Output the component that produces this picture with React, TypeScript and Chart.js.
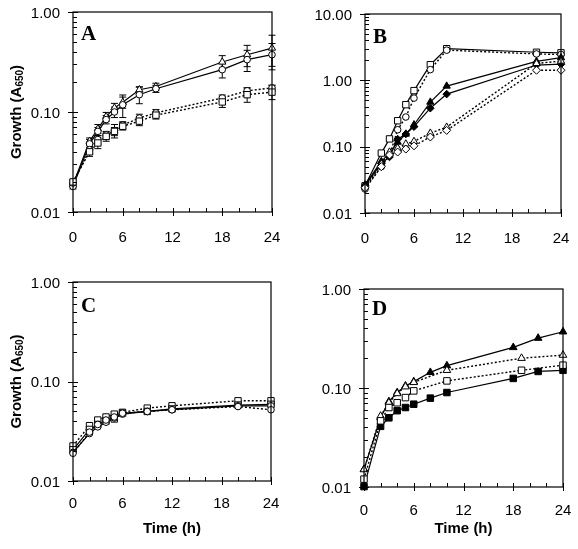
import React, { useEffect, useRef } from "react";
import { Chart, registerables } from "chart.js";
Chart.register(...registerables);

// ---------- DATA ----------
const xMajorTicks = [0, 6, 12, 18, 24];
const yTicks2 = [0.01, 0.1, 1];
const yTicks3 = [0.01, 0.1, 1, 10];

// Panel A
const hoursA = [0, 2, 3, 4, 5, 6, 8, 10, 18, 21, 24];
const aTriSolid = [0.0188, 0.051, 0.068, 0.09, 0.11, 0.125, 0.167, 0.18, 0.316, 0.374, 0.436];
const aTriSolidErr = [0.001, 0.004, 0.007, 0.009, 0.012, 0.016, 0.012, 0.014, 0.05, 0.09, 0.15];
const aCircSolid = [0.018, 0.048, 0.064, 0.084, 0.1, 0.118, 0.149, 0.171, 0.265, 0.334, 0.374];
const aCircSolidErr = [0.001, 0.005, 0.006, 0.008, 0.012, 0.03, 0.028, 0.014, 0.046, 0.08, 0.11];
const aCircDot = [0.0195, 0.042, 0.053, 0.059, 0.065, 0.074, 0.087, 0.098, 0.138, 0.163, 0.174];
const aCircDotErr = [0.001, 0.004, 0.005, 0.005, 0.01, 0.006, 0.008, 0.008, 0.01, 0.012, 0.012];
const aSqDot = [0.02, 0.04, 0.049, 0.057, 0.064, 0.072, 0.081, 0.093, 0.126, 0.149, 0.158];
const aSqDotErr = [0.001, 0.004, 0.006, 0.006, 0.006, 0.006, 0.008, 0.008, 0.015, 0.024, 0.025];

// Panel B
const hoursB = [0, 2, 3, 4, 5, 6, 8, 10, 21, 24];
const bSqSolid = [0.0257, 0.08, 0.131, 0.246, 0.43, 0.7, 1.72, 3.0, 2.65, 2.6];
const bCircDot = [0.023, 0.05, 0.074, 0.18, 0.28, 0.54, 1.45, 2.85, 2.5, 2.45];
const bTriFilled = [0.0266, 0.06, 0.08, 0.117, 0.155, 0.214, 0.47, 0.82, 1.93, 2.2];
const bDiaFilled = [0.026, 0.056, 0.07, 0.13, 0.155, 0.2, 0.38, 0.62, 1.7, 1.75];
const bTriOpen = [0.025, 0.055, 0.083, 0.095, 0.11, 0.12, 0.16, 0.197, 1.8, 1.95];
const bDiaOpen = [0.024, 0.05, 0.075, 0.083, 0.092, 0.103, 0.14, 0.176, 1.42, 1.42];

// Panel C
const hoursC = [0, 2, 3, 4, 5, 6, 9, 12, 20, 24];
const cSqDot = [0.0225, 0.036, 0.041, 0.044, 0.047, 0.049, 0.054, 0.057, 0.064, 0.064];
const cSqSolid = [0.0206, 0.033, 0.037, 0.04, 0.042, 0.048, 0.05, 0.053, 0.058, 0.059];
const cCircSolid = [0.0194, 0.03, 0.035, 0.039, 0.043, 0.047, 0.05, 0.052, 0.057, 0.057];
const cCircDot = [0.019, 0.031, 0.037, 0.041, 0.044, 0.048, 0.05, 0.052, 0.056, 0.052];

// Panel D
const hoursDSolid = [0, 2, 3, 4, 5, 6, 8, 10, 18, 21, 24];
const dTriFilled = [0.0151, 0.05, 0.073, 0.09, 0.105, 0.116, 0.144, 0.168, 0.257, 0.319, 0.37];
const dSqFilled = [0.0101, 0.041, 0.05, 0.059, 0.0635, 0.0686, 0.079, 0.09, 0.125, 0.147, 0.151];
const hoursDDot = [0, 2, 3, 4, 5, 6, 10, 19, 24];
const dTriOpen = [0.015, 0.052, 0.071, 0.088, 0.103, 0.114, 0.151, 0.2, 0.215];
const dSqOpen = [0.012, 0.0466, 0.0635, 0.071, 0.08, 0.0935, 0.118, 0.151, 0.17];

const yTitleMain = "Growth (A";
const yTitleSub = "650";
const yTitleEnd = ")";
const xTitle = "Time (h)";

// ---------- helpers ----------
const SANS = "'Liberation Sans', Arial, Helvetica, sans-serif";
const SERIF = "'Liberation Serif', 'Times New Roman', serif";

function pts(xs: number[], ys: number[]) {
  return xs.map((x, i) => ({ x, y: ys[i] }));
}

function series(xs: number[], ys: number[], style: string, filled: boolean, dotted: boolean, radius: number, errors?: number[]) {
  return {
    data: pts(xs, ys),
    borderColor: "#000",
    borderWidth: dotted ? 1.4 : 1.2,
    borderDash: dotted ? [2, 2] : [],
    pointStyle: style,
    pointRadius: radius,
    pointBackgroundColor: filled ? "#000" : "#fff",
    pointBorderColor: "#000",
    pointBorderWidth: 1,
    backgroundColor: filled ? "#000" : "#fff",
    fill: false,
    tension: 0,
    clip: false,
    errors,
  };
}

const errorBarPlugin = {
  id: "errbars",
  beforeDatasetsDraw(chart: any) {
    const { ctx, scales } = chart;
    const xs = scales.x, ys = scales.y;
    ctx.save();
    ctx.strokeStyle = "#000";
    ctx.lineWidth = 1;
    chart.data.datasets.forEach((ds: any) => {
      if (!ds.errors) return;
      ds.data.forEach((p: any, i: number) => {
        const e = ds.errors[i];
        if (!e) return;
        const px = xs.getPixelForValue(p.x);
        const top = ys.getPixelForValue(p.y + e);
        const bot = ys.getPixelForValue(Math.max(p.y - e, 1e-4));
        ctx.beginPath();
        ctx.moveTo(px, top);
        ctx.lineTo(px, bot);
        ctx.moveTo(px - 3.5, top);
        ctx.lineTo(px + 3.5, top);
        ctx.moveTo(px - 3.5, bot);
        ctx.lineTo(px + 3.5, bot);
        ctx.stroke();
      });
    });
    ctx.restore();
  },
};

const framePlugin = {
  id: "frame",
  afterDraw(chart: any) {
    const { ctx, chartArea: a, scales } = chart;
    const xs = scales.x, ys = scales.y;
    const cfg = chart.options.plugins.panel;
    ctx.save();
    ctx.strokeStyle = "#000";
    ctx.fillStyle = "#000";
    ctx.lineWidth = 1.2;
    ctx.strokeRect(a.left, a.top, a.right - a.left, a.bottom - a.top);
    ctx.lineWidth = 1;
    // x ticks + labels
    ctx.font = `15px ${SANS}`;
    ctx.textAlign = "center";
    ctx.textBaseline = "alphabetic";
    for (let h = xs.min; h <= xs.max; h += 2) {
      const px = Math.round(xs.getPixelForValue(h)) + 0.5;
      const major = xMajorTicks.includes(h);
      ctx.beginPath();
      ctx.moveTo(px, a.bottom + (major ? 4 : 0));
      ctx.lineTo(px, a.bottom - 4);
      ctx.stroke();
      if (major) ctx.fillText(String(h), xs.getPixelForValue(h), a.bottom + cfg.xLabelOffset);
    }
    // y ticks + labels
    const decades: number[] = cfg.yTicks;
    ctx.textAlign = "right";
    for (let d = 0; d < decades.length; d++) {
      const base = decades[d];
      const yp = ys.getPixelForValue(base);
      const py = Math.round(yp) + 0.5;
      ctx.beginPath();
      ctx.moveTo(a.left - 5, py);
      ctx.lineTo(a.left + 5, py);
      ctx.stroke();
      ctx.fillText(base.toFixed(2), a.left - 13, yp + 5.5);
      if (d < decades.length - 1) {
        for (let k = 2; k <= 9; k++) {
          const pm = Math.round(ys.getPixelForValue(base * k)) + 0.5;
          ctx.beginPath();
          ctx.moveTo(a.left, pm);
          ctx.lineTo(a.left + 4, pm);
          ctx.stroke();
        }
      }
    }
    // panel letter
    ctx.font = `bold 21px ${SERIF}`;
    ctx.textAlign = "left";
    ctx.fillText(cfg.letter, a.left + 8, a.top + cfg.letterDy);
    // y title
    if (cfg.yTitle) {
      const cy = (a.top + a.bottom) / 2;
      ctx.save();
      ctx.translate(21, cy);
      ctx.rotate(-Math.PI / 2);
      ctx.font = `bold 15px ${SANS}`;
      const w1 = ctx.measureText(yTitleMain).width;
      const w3 = ctx.measureText(yTitleEnd).width;
      ctx.font = `bold 10px ${SANS}`;
      const w2 = ctx.measureText(yTitleSub).width;
      const x0 = -(w1 + w2 + w3) / 2;
      ctx.font = `bold 15px ${SANS}`;
      ctx.fillText(yTitleMain, x0, 0);
      ctx.font = `bold 10px ${SANS}`;
      ctx.fillText(yTitleSub, x0 + w1, 2);
      ctx.font = `bold 15px ${SANS}`;
      ctx.fillText(yTitleEnd, x0 + w1 + w2, 0);
      ctx.restore();
    }
    // x title
    if (cfg.xTitleY) {
      ctx.font = `bold 15px ${SANS}`;
      ctx.textAlign = "center";
      ctx.fillText(xTitle, (a.left + a.right) / 2, cfg.xTitleY);
    }
    ctx.restore();
  },
};

type Panel = {
  box: { left: number; top: number; w: number; h: number };
  area: { l: number; t: number; r: number; b: number };
  yMin: number;
  yMax: number;
  yTicks: number[];
  letter: string;
  letterDy: number;
  yTitle: boolean;
  xTitleY: number | null;
  xLabelOffset: number;
  datasets: any[];
};

const panels: Panel[] = [
  {
    box: { left: 0, top: 0, w: 290, h: 270 },
    area: { l: 73, t: 12, r: 272, b: 212 },
    yMin: 0.01, yMax: 1, yTicks: yTicks2, letter: "A", letterDy: 28, yTitle: true, xTitleY: null, xLabelOffset: 30,
    datasets: [
      series(hoursA, aSqDot, "rect", false, true, 4.5, aSqDotErr),
      series(hoursA, aCircDot, "circle", false, true, 3.3, aCircDotErr),
      series(hoursA, aCircSolid, "circle", false, false, 3.3, aCircSolidErr),
      series(hoursA, aTriSolid, "triangle", false, false, 4.2, aTriSolidErr),
    ],
  },
  {
    box: { left: 290, top: 0, w: 288, h: 270 },
    area: { l: 75, t: 14, r: 271, b: 213 },
    yMin: 0.01, yMax: 10, yTicks: yTicks3, letter: "B", letterDy: 29, yTitle: false, xTitleY: null, xLabelOffset: 30,
    datasets: [
      series(hoursB, bDiaOpen, "rectRot", false, true, 4, undefined),
      series(hoursB, bTriOpen, "triangle", false, true, 4.2, undefined),
      series(hoursB, bDiaFilled, "rectRot", true, false, 3.8, undefined),
      series(hoursB, bTriFilled, "triangle", true, false, 4.2, undefined),
      series(hoursB, bCircDot, "circle", false, true, 3.3, undefined),
      series(hoursB, bSqSolid, "rect", false, false, 4.5, undefined),
    ],
  },
  {
    box: { left: 0, top: 270, w: 290, h: 279 },
    area: { l: 73, t: 12, r: 271, b: 211 },
    yMin: 0.01, yMax: 1, yTicks: yTicks2, letter: "C", letterDy: 30, yTitle: true, xTitleY: 263, xLabelOffset: 27,
    datasets: [
      series(hoursC, cCircDot, "circle", false, true, 3.3, undefined),
      series(hoursC, cCircSolid, "circle", false, false, 3.3, undefined),
      series(hoursC, cSqSolid, "rect", false, false, 4.5, undefined),
      series(hoursC, cSqDot, "rect", false, true, 4.5, undefined),
    ],
  },
  {
    box: { left: 290, top: 270, w: 288, h: 279 },
    area: { l: 74, t: 19, r: 273, b: 217 },
    yMin: 0.01, yMax: 1, yTicks: yTicks2, letter: "D", letterDy: 26, yTitle: false, xTitleY: 263, xLabelOffset: 28,
    datasets: [
      series(hoursDDot, dSqOpen, "rect", false, true, 4.6, undefined),
      series(hoursDDot, dTriOpen, "triangle", false, true, 4.4, undefined),
      series(hoursDSolid, dSqFilled, "rect", true, false, 4.6, undefined),
      series(hoursDSolid, dTriFilled, "triangle", true, false, 4.4, undefined),
    ],
  },
];

function PanelChart({ p }: { p: Panel }) {
  const ref = useRef<HTMLCanvasElement | null>(null);
  useEffect(() => {
    if (!ref.current) return;
    const chart = new Chart(ref.current, {
      type: "line",
      data: { datasets: p.datasets as any },
      options: {
        responsive: false,
        animation: false,
        events: [],
        layout: {
          padding: { top: p.area.t, right: p.box.w - p.area.r, left: p.area.l, bottom: p.box.h - p.area.b },
        },
        plugins: {
          legend: { display: false },
          tooltip: { enabled: false },
          panel: {
            letter: p.letter,
            letterDy: p.letterDy,
            yTicks: p.yTicks,
            yTitle: p.yTitle,
            xTitleY: p.xTitleY,
            xLabelOffset: p.xLabelOffset,
          },
        } as any,
        scales: {
          x: { type: "linear", min: 0, max: 24, display: false },
          y: { type: "logarithmic", min: p.yMin, max: p.yMax, display: false },
        },
      },
      plugins: [errorBarPlugin, framePlugin],
    });
    return () => chart.destroy();
  }, [p]);
  return (
    <canvas
      ref={ref}
      width={p.box.w}
      height={p.box.h}
      style={{ position: "absolute", left: p.box.left, top: p.box.top, width: p.box.w, height: p.box.h }}
    />
  );
}

export default function App() {
  return (
    <div style={{ position: "fixed", left: 0, top: 0, width: 578, height: 549, background: "#fff" }}>
      {panels.map((p) => (
        <PanelChart key={p.letter} p={p} />
      ))}
    </div>
  );
}
